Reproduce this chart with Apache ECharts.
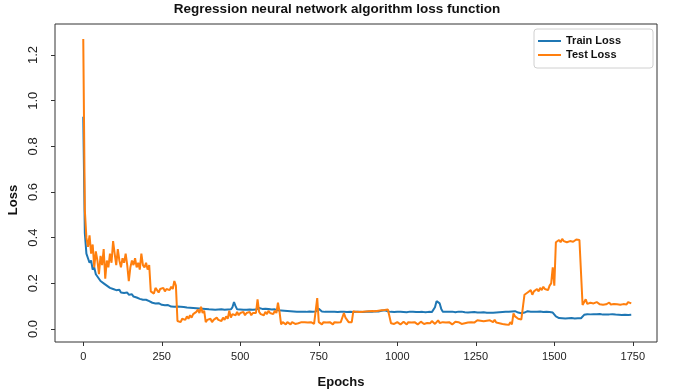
<!DOCTYPE html>
<html><head><meta charset="utf-8">
<script src="https://cdn.jsdelivr.net/npm/echarts@6/dist/echarts.min.js"></script>
<style>html,body{margin:0;padding:0;background:#fff}#c{width:685px;height:390px}</style>
</head><body><div id="c"></div>
<script>
const epochStep = 5;
const trainLoss = [
0.93,0.42,0.33,0.31,0.29,0.30,0.26,0.27,0.24,0.23,
0.22,0.21,0.215,0.20,0.205,0.19,0.195,0.18,0.185,0.175,
0.18,0.17,0.168,0.172,0.16,0.165,0.158,0.155,0.16,0.15,
0.148,0.152,0.142,0.145,0.138,0.14,0.132,0.135,0.128,0.125,
0.128,0.12,0.122,0.118,0.115,0.118,0.112,0.11,0.113,0.108,
0.106,0.108,0.104,0.102,0.105,0.1,0.098,0.101,0.097,0.099,
0.098,0.095,0.097,0.094,0.096,0.093,0.094,0.091,0.093,0.09,
0.092,0.089,0.091,0.088,0.09,0.087,0.089,0.086,0.088,0.087,
0.086,0.088,0.085,0.087,0.084,0.086,0.085,0.084,0.086,0.083,
0.084,0.083,0.085,0.082,0.086,0.095,0.118,0.1,0.086,0.084,
0.085,0.083,0.084,0.082,0.084,0.083,0.085,0.082,0.084,0.083,
0.085,0.088,0.092,0.09,0.088,0.091,0.089,0.087,0.088,0.086,
0.085,0.084,0.086,0.083,0.082,0.084,0.081,0.082,0.08,0.081,
0.079,0.08,0.078,0.079,0.077,0.078,0.076,0.077,0.076,0.078,
0.076,0.077,0.075,0.076,0.077,0.075,0.076,0.075,0.077,0.076,
0.088,0.082,0.077,0.076,0.075,0.077,0.076,0.075,0.076,0.074,
0.075,0.076,0.074,0.075,0.076,0.074,0.075,0.076,0.074,0.075,
0.076,0.075,0.074,0.076,0.075,0.077,0.075,0.076,0.074,0.075,
0.076,0.075,0.077,0.076,0.075,0.077,0.078,0.076,0.077,0.078,
0.08,0.085,0.082,0.079,0.077,0.076,0.075,0.076,0.074,0.075,
0.076,0.074,0.075,0.076,0.074,0.075,0.073,0.075,0.076,0.074,
0.075,0.073,0.074,0.076,0.074,0.073,0.075,0.074,0.073,0.075,
0.075,0.076,0.074,0.078,0.095,0.122,0.13,0.112,0.088,0.076,
0.074,0.075,0.073,0.075,0.074,0.076,0.074,0.073,0.075,0.076,
0.08,0.076,0.074,0.073,0.075,0.072,0.074,0.073,0.072,0.074,
0.073,0.072,0.074,0.072,0.071,0.073,0.072,0.071,0.073,0.071,
0.072,0.071,0.073,0.072,0.074,0.073,0.075,0.074,0.076,0.075,
0.077,0.076,0.078,0.077,0.082,0.078,0.074,0.072,0.07,0.069,
0.07,0.072,0.076,0.078,0.077,0.076,0.078,0.075,0.077,0.076,
0.075,0.077,0.076,0.074,0.076,0.075,0.077,0.074,0.073,0.072,
0.068,0.055,0.05,0.048,0.049,0.047,0.048,0.046,0.048,0.047,
0.046,0.048,0.047,0.046,0.048,0.047,0.045,0.047,0.05,0.062,
0.066,0.065,0.067,0.064,0.066,0.065,0.063,0.065,0.064,0.066,
0.064,0.063,0.065,0.064,0.062,0.064,0.063,0.065,0.062,0.063,
0.064,0.062,0.063,0.061,0.063,0.062,0.064,0.061,0.066,0.062
];
const testLoss = [
1.27,0.52,0.40,0.36,0.41,0.33,0.37,0.27,0.34,0.30,
0.24,0.32,0.28,0.35,0.22,0.30,0.27,0.33,0.29,0.385,
0.33,0.28,0.35,0.30,0.27,0.31,0.29,0.33,0.28,0.21,
0.27,0.30,0.28,0.31,0.27,0.29,0.26,0.33,0.28,0.27,
0.29,0.26,0.28,0.165,0.17,0.155,0.18,0.17,0.16,0.175,
0.17,0.18,0.165,0.175,0.18,0.17,0.185,0.175,0.21,0.19,
0.035,0.04,0.03,0.045,0.05,0.04,0.055,0.045,0.06,0.05,
0.065,0.06,0.075,0.085,0.07,0.098,0.07,0.08,0.03,0.04,
0.035,0.045,0.03,0.04,0.035,0.05,0.04,0.045,0.035,0.05,
0.04,0.055,0.045,0.08,0.05,0.065,0.07,0.06,0.075,0.06,
0.07,0.065,0.075,0.06,0.07,0.065,0.075,0.06,0.07,0.065,
0.07,0.13,0.075,0.065,0.07,0.06,0.075,0.065,0.08,0.07,
0.075,0.065,0.08,0.07,0.115,0.075,0.02,0.03,0.025,0.02,
0.03,0.025,0.02,0.03,0.028,0.022,0.03,0.025,0.02,0.03,
0.025,0.03,0.022,0.028,0.02,0.03,0.025,0.022,0.03,0.135,
0.03,0.025,0.02,0.03,0.025,0.028,0.022,0.03,0.025,0.02,
0.03,0.025,0.028,0.022,0.03,0.035,0.07,0.05,0.04,0.03,
0.035,0.03,0.078,0.08,0.075,0.082,0.074,0.08,0.076,0.079,
0.077,0.08,0.078,0.082,0.079,0.081,0.078,0.083,0.08,0.084,
0.082,0.086,0.083,0.088,0.085,0.082,0.025,0.03,0.022,0.028,
0.03,0.025,0.02,0.028,0.032,0.025,0.02,0.03,0.025,0.028,
0.022,0.03,0.025,0.02,0.028,0.032,0.025,0.022,0.03,0.026,
0.03,0.025,0.035,0.028,0.022,0.03,0.038,0.026,0.022,0.03,
0.025,0.028,0.022,0.03,0.025,0.02,0.028,0.032,0.025,0.03,
0.027,0.022,0.03,0.025,0.032,0.028,0.022,0.03,0.035,0.028,
0.032,0.038,0.03,0.036,0.04,0.034,0.042,0.036,0.04,0.038,
0.035,0.03,0.04,0.028,0.035,0.025,0.032,0.022,0.03,0.02,
0.028,0.018,0.03,0.02,0.068,0.055,0.06,0.045,0.05,0.042,
0.04,0.15,0.145,0.16,0.155,0.17,0.15,0.165,0.16,0.175,
0.165,0.18,0.17,0.185,0.175,0.18,0.17,0.19,0.2,0.27,
0.19,0.38,0.385,0.39,0.38,0.395,0.385,0.39,0.38,0.388,
0.385,0.39,0.382,0.388,0.392,0.385,0.39,0.395,0.105,0.11,
0.13,0.11,0.105,0.115,0.108,0.112,0.105,0.118,0.11,0.108,
0.112,0.106,0.114,0.108,0.11,0.116,0.107,0.112,0.109,0.113,
0.108,0.112,0.106,0.114,0.109,0.111,0.107,0.118,0.11,0.112
];
const xTicks = [0,250,500,750,1000,1250,1500,1750];
const yTicks = [0,0.2,0.4,0.6,0.8,1.0,1.2];
const seriesNames = ['Train Loss','Test Loss'];
const titleText = 'Regression neural network algorithm loss function';
const xName = 'Epochs';
const yName = 'Loss';

const toPairs = arr => arr.map((v, i) => [i * epochStep, v]);
const font = '"Liberation Sans", Arial, sans-serif';
const axisColor = '#333';

const chart = echarts.init(document.getElementById('c'), null, {renderer: 'canvas'});
chart.setOption({
  animation: false,
  backgroundColor: '#fff',
  grid: {left: 55, right: 28, top: 24, bottom: 48, show: true, borderColor: axisColor, borderWidth: 1, backgroundColor: 'transparent'},
  legend: {
    orient: 'vertical', left: 534, top: 29,
    padding: [5, 32, 6, 4], itemGap: 0,
    itemWidth: 23, itemHeight: 2, icon: 'rect',
    borderColor: '#d0d0d0', borderWidth: 1, borderRadius: 3, backgroundColor: '#fff',
    textStyle: {fontFamily: font, fontSize: 11, fontWeight: 'bold', color: '#111', lineHeight: 14, height: 14},
    data: seriesNames
  },
  xAxis: {
    type: 'value', min: -90, max: 1827,
    splitLine: {show: false},
    axisLine: {show: false, onZero: false},
    axisTick: {show: true, length: 4, customValues: xTicks, lineStyle: {color: axisColor}},
    axisLabel: {customValues: xTicks, margin: 9, fontFamily: font, fontSize: 11, color: '#222',
      formatter: v => String(v)}
  },
  yAxis: {
    type: 'value', min: -0.057, max: 1.336,
    splitLine: {show: false},
    axisLine: {show: false, onZero: false},
    axisTick: {show: true, length: 4, customValues: yTicks, lineStyle: {color: axisColor}},
    axisLabel: {customValues: yTicks, rotate: 90, margin: 15, fontFamily: font, fontSize: 13, color: '#222',
      formatter: v => v.toFixed(1)}
  },
  graphic: [
    {type: 'text', style: {text: titleText, x: 337, y: 9, textAlign: 'center', textVerticalAlign: 'middle',
      font: 'bold 13.5px ' + font, fill: '#111'}},
    {type: 'text', style: {text: xName, x: 341, y: 382, textAlign: 'center', textVerticalAlign: 'middle',
      font: 'bold 13px ' + font, fill: '#111'}},
    {type: 'text', x: 13, y: 200, rotation: Math.PI / 2, style: {text: yName, x: 0, y: 0, textAlign: 'center', textVerticalAlign: 'middle',
      font: 'bold 13px ' + font, fill: '#111'}}
  ],
  series: [
    {name: seriesNames[0], type: 'line', data: toPairs(trainLoss), showSymbol: false, symbol: 'none',
      color: '#1f77b4', lineStyle: {width: 2, color: '#1f77b4'}, z: 2},
    {name: seriesNames[1], type: 'line', data: toPairs(testLoss), showSymbol: false, symbol: 'none',
      color: '#ff7f0e', lineStyle: {width: 2, color: '#ff7f0e'}, z: 3}
  ]
});
</script></body></html>
